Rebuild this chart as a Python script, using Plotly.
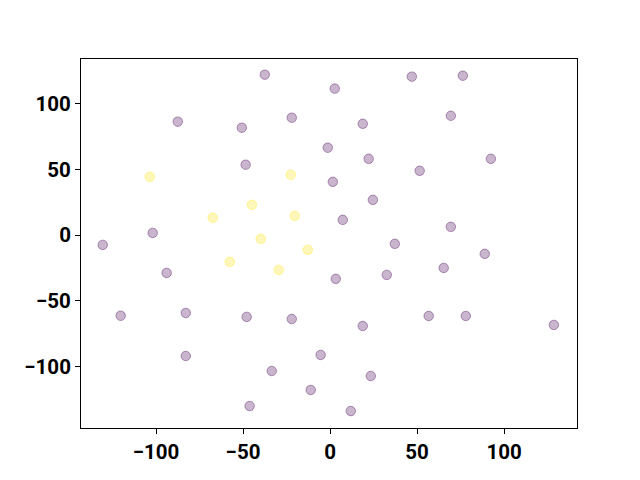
import plotly.graph_objects as go

# Purple class (label 0)
x_purple = [-37.5, -87.5, -50.7, -22.0, 2.7, 47.0, 76.3, 18.8, 69.4, -1.3,
            22.2, -48.5, 51.5, 92.4, 1.6, 24.6, 7.3, 69.4, -101.9, -130.6,
            37.2, -93.9, 3.3, 32.6, 65.3, 88.9, -120.3, -82.9, -47.9, -22.0,
            18.8, 56.7, 78.0, 128.6, -82.9, -5.4, -33.5, 23.4, -11.1, -46.2, 11.9]
y_purple = [121.9, 86.2, 81.6, 89.2, 111.3, 120.4, 121.1, 84.6, 90.7, 66.4,
            58.0, 53.5, 48.9, 58.0, 40.5, 26.8, 11.6, 6.3, 1.7, -7.4,
            -6.6, -28.7, -33.2, -30.2, -24.9, -14.2, -61.2, -59.1, -62.1, -63.7,
            -69.0, -61.4, -61.4, -68.2, -91.8, -91.0, -103.2, -107.0, -117.6, -129.8, -133.6]

# Yellow class (label 1)
x_yellow = [-103.6, -22.6, -44.9, -67.4, -20.3, -39.8, -12.8, -57.6, -29.5]
y_yellow = [44.3, 45.9, 23.0, 13.2, 14.7, -2.8, -11.2, -20.3, -26.4]

x_ticks = [-100, -50, 0, 50, 100]
y_ticks = [-100, -50, 0, 50, 100]

fig = go.Figure()
fig.add_trace(go.Scatter(
    x=x_purple, y=y_purple, mode="markers",
    marker=dict(size=9.5, color="rgba(68,1,84,0.29)",
                line=dict(color="rgba(68,1,84,0.38)", width=1)),
    showlegend=False))
fig.add_trace(go.Scatter(
    x=x_yellow, y=y_yellow, mode="markers",
    marker=dict(size=9.5, color="rgba(253,231,37,0.32)",
                line=dict(color="rgba(253,231,37,0.42)", width=1)),
    showlegend=False))

axis_common = dict(showline=True, linecolor="black", linewidth=1, mirror=True,
                   ticks="outside", ticklen=5, tickcolor="black", tickwidth=1,
                   showgrid=False, zeroline=False, automargin=False,
                   tickfont=dict(family="Roboto", size=20.5, color="black", weight="bold"))

fig.update_xaxes(range=[-143.1, 141.9], tickvals=x_ticks, **axis_common)
fig.update_yaxes(range=[-146.5, 133.8], tickvals=y_ticks, ticklabelstandoff=0, **axis_common)

fig.update_layout(width=640, height=480,
                  margin=dict(l=73, r=71, t=51, b=60),
                  plot_bgcolor="white", paper_bgcolor="white")

fig.write_html("out.html")
